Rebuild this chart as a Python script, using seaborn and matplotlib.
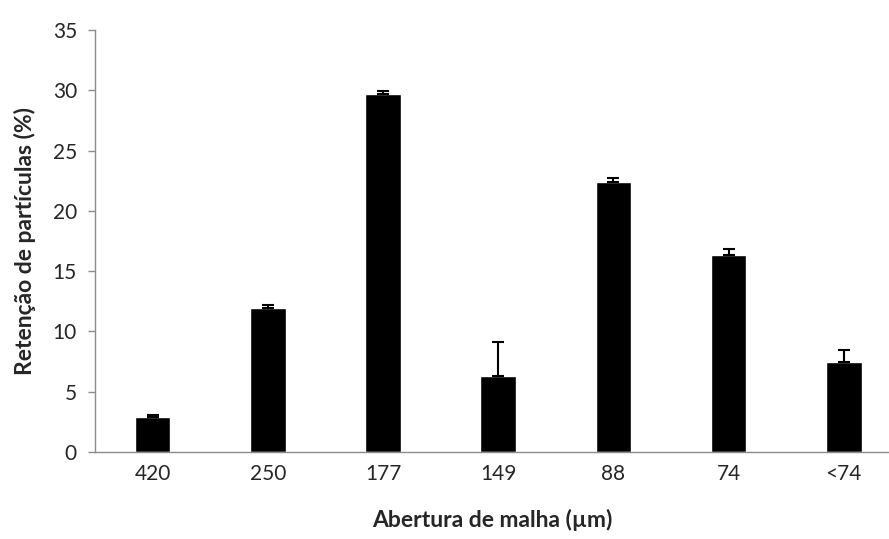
import numpy as np
import pandas as pd
import matplotlib.pyplot as plt
import seaborn as sns

# Data
mesh = ["420", "250", "177", "149", "88", "74", "<74"]
retention = [2.9, 11.95, 29.7, 6.3, 22.4, 16.3, 7.45]
err_up = [0.15, 0.25, 0.25, 2.8, 0.3, 0.55, 1.05]

sns.set_style("white")
plt.rcParams['font.family'] = ['Lato', 'DejaVu Sans']

df = pd.DataFrame({"mesh": mesh, "retention": retention})

fig = plt.figure(figsize=(8.89, 5.39), dpi=100)
ax = fig.add_axes([95 / 889, 87 / 539, 794 / 889, 422 / 539])

sns.barplot(data=df, x="mesh", y="retention", color="black", width=0.31,
            saturation=1, ax=ax)
ax.errorbar(np.arange(len(mesh)), retention,
            yerr=[np.zeros(len(mesh)), err_up],
            fmt="none", ecolor="black", elinewidth=1.5, capsize=4, capthick=1.5)

ax.set_ylim(0, 35)
ax.set_yticks(range(0, 36, 5))
ax.set_xlim(-0.5, -0.5 + 794 / 115.2)

for side in ["top", "right"]:
    ax.spines[side].set_visible(False)
for side in ["left", "bottom"]:
    ax.spines[side].set_color("#8c8c8c")
    ax.spines[side].set_linewidth(1.0)

ax.tick_params(axis="y", left=True, length=5, width=1.0, color="#8c8c8c",
               labelsize=15, pad=8)
ax.tick_params(axis="x", bottom=False, labelsize=15, pad=5)

ax.set_xlabel("Abertura de malha (µm)", fontsize=16.5, fontweight="bold", labelpad=18)
ax.set_ylabel("Retenção de partículas (%)", fontsize=16.5, fontweight="bold", labelpad=12)

fig.savefig("out.png", dpi=100)
